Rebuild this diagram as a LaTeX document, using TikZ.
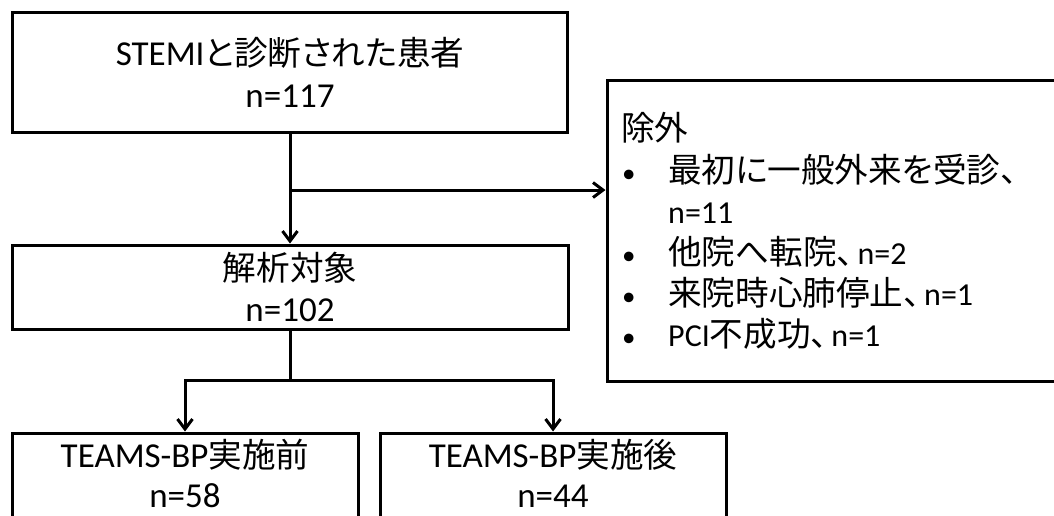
\documentclass[tikz,border=0pt]{standalone}
\usepackage{fontspec}
\setmainfont{Carlito}
\newfontfamily\jab[RawFeature=+palt,Scale=0.96]{Noto Sans CJK JP}
\newfontfamily\jas[RawFeature=+palt,Scale=1.05]{Noto Sans CJK JP}
\let\jcur\jas
\newcommand\J[1]{{\jcur #1}}
\newcommand\tou{\J{、}\hspace{4pt}}
\usetikzlibrary{arrows.meta}
\tikzset{
  box/.style={draw, line width=3pt, inner sep=0pt, minimum width=#1},
  big/.style={font=\fontsize{35}{42}\selectfont\let\jcur\jab, inner sep=0pt, align=center, anchor=base},
  exl/.style={font=\fontsize{32}{40}\selectfont\let\jcur\jas, inner sep=0pt, anchor=base west},
  dot/.style={font=\fontsize{27}{40}\selectfont, inner sep=0pt, anchor=base west},
  conn/.style={line width=3pt},
  arr/.style={conn, -{Straight Barb[length=10pt,width=15pt,line width=3pt]}}
}
\begin{document}
\begin{tikzpicture}[x=1pt,y=-1pt]
\useasboundingbox (0,0) rectangle (1054,515);
\clip (0,0) rectangle (1054,515);
% boxes
\node[box=555pt, minimum height=120pt] (top) at (289.5,72) {};
\node[box=556pt, minimum height=84pt] (mid) at (290,287) {};
\node[box=463pt, minimum height=301pt] (excl) at (838.5,230.5) {};
\node[box=346pt, minimum height=107pt] (bl) at (185,486.5) {};
\node[box=346pt, minimum height=107pt] (brt) at (553,486.5) {};
% texts
\node[big] (t1) at (290,65) {STEMI\J{と診断された患者}};
\node[big] (t2) at (290,107) {n=117};
\node[big] (m1) at (290,280) {\J{解析対象}};
\node[big] (m2) at (290,321) {n=102};
\node[big] (b1) at (185,467) {TEAMS-BP\J{実施前}};
\node[big] (b2) at (185,507) {n=58};
\node[big] (c1) at (553,467) {TEAMS-BP\J{実施後}};
\node[big] (c2) at (553,507) {n=44};
\node[exl] (e0) at (621,140) {\J{除外}};
\node[dot] (d1) at (622,182) {•};
\node[exl] (e1) at (668,182) {\J{最初に一般外来を受診、}};
\node[exl] (e1b) at (668,223) {n=11};
\node[dot] (d2) at (622,264) {•};
\node[exl] (e2) at (668,264) {\J{他院へ転院}\tou n=2};
\node[dot] (d3) at (622,305) {•};
\node[exl] (e3) at (668,305) {\J{来院時心肺停止}\tou n=1};
\node[dot] (d4) at (622,346) {•};
\node[exl] (e4) at (668,346) {PCI\J{不成功}\tou n=1};
% connectors
\coordinate (br) at (290,190);
\coordinate (sp) at (290,380);
\draw[arr] (top.south -| mid.north) -- (mid.north);
\draw[arr] (br) -- (br -| excl.west);
\draw[conn] (mid.south) -- (sp);
\draw[arr] (sp) -| (bl.north);
\draw[arr] (sp) -| (brt.north);
\end{tikzpicture}
\end{document}
